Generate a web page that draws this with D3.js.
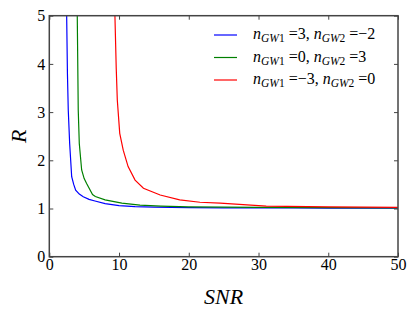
<!DOCTYPE html>
<html>
<head>
<meta charset="utf-8">
<script src="https://cdn.jsdelivr.net/npm/d3@7"></script>
<style>
  body { margin: 0; background: #fff; }
</style>
</head>
<body>
<script>
// values
var blueSnr = [2.49, 2.6, 2.72, 2.92, 3.21, 3.5, 3.78, 4.3, 4.87, 5.7, 6.55, 8, 10, 12.3, 15, 20, 25, 30, 35, 40, 45, 50];
var blueR   = [5, 3.8, 3.04, 2.35, 1.66, 1.5, 1.38, 1.3, 1.245, 1.19, 1.156, 1.1, 1.06, 1.04, 1.03, 1.02, 1.015, 1.012, 1.01, 1.008, 1.006, 1.005];

var greenSnr = [4.01, 4.15, 4.3, 4.64, 5.0, 5.35, 6.2, 6.6, 8.0, 10.4, 13, 16, 20, 25, 30, 40, 50];
var greenR   = [5, 3.04, 2.35, 1.8, 1.62, 1.52, 1.29, 1.25, 1.18, 1.11, 1.07, 1.05, 1.035, 1.03, 1.025, 1.02, 1.015];

var redSnr = [9.41, 9.6, 9.75, 10.1, 10.6, 11.3, 12.3, 13.5, 15.9, 18.7, 21.6, 24.5, 31.1, 40, 50];
var redR   = [5, 3.9, 3.25, 2.56, 2.21, 1.87, 1.59, 1.42, 1.28, 1.18, 1.13, 1.11, 1.05, 1.035, 1.025];

var xTicks = [0, 10, 20, 30, 40, 50];
var yTicks = [0, 1, 2, 3, 4, 5];

var legendLabels = [
  {gw1: "3", gw2: "\u22122"},
  {gw1: "0", gw2: "3"},
  {gw1: "\u22123", gw2: "0"}
];
var colors = ["#0000ff", "#008000", "#ff0000"];

var series = [
  d3.zip(blueSnr, blueR),
  d3.zip(greenSnr, greenR),
  d3.zip(redSnr, redR)
];

var serif = "'Liberation Serif'";

// layout
var margin = {top: 15.7, right: 17, bottom: 58.3, left: 49.3},
    W = 415, H = 315,
    width = W - margin.left - margin.right,
    height = H - margin.top - margin.bottom;

var svg = d3.select("body").append("svg")
    .attr("width", W)
    .attr("height", H);

var g = svg.append("g")
    .attr("transform", "translate(" + margin.left + "," + margin.top + ")");

var x = d3.scaleLinear().domain([0, 50]).range([0, width]);
var y = d3.scaleLinear().domain([0, 5]).range([height, 0]);

// clip the curves to the plot box
g.append("clipPath").attr("id", "clip")
  .append("rect").attr("width", width).attr("height", height);

var line = d3.line()
    .x(function(d) { return x(d[0]); })
    .y(function(d) { return y(d[1]); });

g.append("g").attr("clip-path", "url(#clip)")
  .selectAll("path")
  .data(series)
  .enter().append("path")
    .attr("d", line)
    .attr("fill", "none")
    .attr("stroke", function(d, i) { return colors[i]; })
    .attr("stroke-width", 1.2);

// axes, ticks pointing inward on all four sides
function styleAxis(sel) {
  sel.select(".domain").remove();
  sel.selectAll(".tick line").attr("stroke", "#444").attr("stroke-width", 1);
  sel.selectAll(".tick text")
    .style("font-family", serif)
    .style("font-size", "16px")
    .attr("fill", "#000");
}

g.append("g")
    .attr("transform", "translate(0," + height + ")")
    .call(d3.axisBottom(x).tickValues(xTicks).tickSize(-4).tickPadding(2).tickFormat(d3.format("d")))
    .call(styleAxis);

g.append("g")
    .call(d3.axisTop(x).tickValues(xTicks).tickSize(-4).tickFormat(""))
    .call(styleAxis);

g.append("g")
    .call(d3.axisLeft(y).tickValues(yTicks).tickSize(-4).tickPadding(4).tickFormat(d3.format("d")))
    .call(styleAxis);

g.append("g")
    .attr("transform", "translate(" + width + ",0)")
    .call(d3.axisRight(y).tickValues(yTicks).tickSize(-4).tickFormat(""))
    .call(styleAxis);

// frame
g.append("rect")
    .attr("width", width)
    .attr("height", height)
    .attr("fill", "none")
    .attr("stroke", "#444")
    .attr("stroke-width", 1.5);

// axis labels
svg.append("text")
    .attr("x", margin.left + width / 2)
    .attr("y", 304)
    .attr("text-anchor", "middle")
    .style("font-family", serif)
    .style("font-size", "22px")
    .style("font-style", "italic")
    .text("SNR");

svg.append("text")
    .attr("transform", "translate(26," + (margin.top + height / 2) + ") rotate(-90)")
    .attr("text-anchor", "middle")
    .style("font-family", serif)
    .style("font-size", "22px")
    .style("font-style", "italic")
    .text("R");

// legend
var legend = svg.append("g").attr("transform", "translate(214,35)");

var item = legend.selectAll("g")
    .data(legendLabels)
  .enter().append("g")
    .attr("transform", function(d, i) { return "translate(0," + (i * 22.5) + ")"; });

item.append("line")
    .attr("x1", 0).attr("x2", 23)
    .attr("stroke", function(d, i) { return colors[i]; })
    .attr("stroke-width", 1.2);

var txt = item.append("text")
    .attr("x", 39)
    .attr("y", 4)
    .style("font-family", serif)
    .style("font-size", "16px");

function addTerm(t, idx, val) {
  t.append("tspan").style("font-style", "italic").text("n");
  t.append("tspan").attr("dy", 3).style("font-size", "11.5px").style("font-style", "italic").text("GW");
  t.append("tspan").style("font-size", "11.5px").text(idx);
  t.append("tspan").attr("dy", -3).attr("dx", 4).text("=" + val);
}

txt.each(function(d) {
  var t = d3.select(this);
  addTerm(t, "1", d.gw1 + ",");
  t.append("tspan").text(" ");
  addTerm(t, "2", d.gw2);
});
</script>
</body>
</html>
